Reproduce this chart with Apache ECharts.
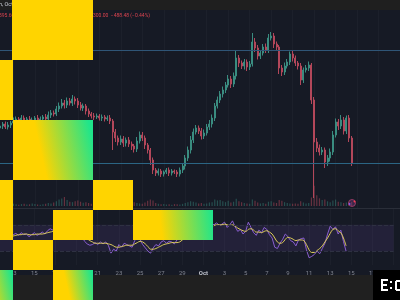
<!DOCTYPE html>
<html><head><meta charset="utf-8">
<script src="https://cdn.jsdelivr.net/npm/echarts@6/dist/echarts.min.js"></script>
<style>html,body{margin:0;padding:0;background:#161a25;}#c{width:400px;height:300px;}</style>
</head><body><div id="c"></div>
<script>
// 6h slots starting Sep 11 18:00 (UTC); the axis runs to Oct 19
const slotStart = Date.UTC(2025, 8, 11, 18);
const slotCount = 150;
const firstOpen = 114500;
const closes = [
114700,114900,114600,114800,115000,115200,115400,115200,115500,115300,
115400,115100,115300,115500,115200,115400,115600,115400,115800,116000,
115900,116400,116700,117000,116800,117200,117000,117400,117200,116800,
116500,116700,116200,115900,115700,115600,115700,115500,115600,115400,
115500,115200,114100,113500,113100,113400,113000,113300,112900,112700,
112400,113200,113800,113500,112800,112300,111300,110300,110000,110200,
109900,110100,110300,110000,110200,110100,109900,110300,110700,111500,
112300,113300,114100,114500,114200,113700,114000,114600,114900,115500,
116700,117300,117900,118300,118800,119400,118900,119700,121500,121000,
120700,121100,120600,120900,123100,122500,121700,122000,122600,122300,
123500,123700,122900,122600,120500,120100,120700,121100,121900,121500,
121000,120700,119300,120300,120500,120800,117300,113100,112500,112100,
112300,111100,111500,112100,113800,115100,114700,115300,114200,115500,
113500,111000];
const highWick = [
300,200,250,300,200,350,250,200,300,250,
200,300,250,200,300,250,200,300,350,300,
250,300,350,400,300,350,300,400,250,300,
300,250,200,250,200,300,250,200,250,200,
250,300,200,300,250,350,300,250,300,250,
200,400,350,300,250,200,200,250,200,250,
200,150,200,250,200,150,200,250,200,300,
350,400,350,300,250,300,350,300,400,350,
300,350,300,350,300,400,300,350,800,300,
250,300,250,300,900,400,300,250,300,350,
400,400,300,250,200,300,350,300,250,300,
250,200,300,250,300,350,200,300,400,350,
300,250,300,350,400,350,300,500,300,250,
300,200];
const lowWick = [
250,300,200,250,300,200,250,300,200,250,
300,250,200,300,250,200,300,250,200,300,
250,200,300,250,350,300,250,300,350,300,
250,300,350,300,250,300,200,250,300,250,
200,300,1800,400,350,300,400,350,300,400,
350,300,250,300,400,350,500,400,300,250,
300,250,200,300,250,200,300,250,300,350,
300,350,300,250,300,350,300,250,300,350,
300,250,300,350,300,250,400,300,350,400,
300,350,400,300,250,400,350,300,250,300,
300,250,400,350,600,400,300,250,300,350,
300,350,500,300,250,300,400,5600,400,350,
300,600,400,350,300,250,400,300,350,300,
400,300];
const volumes = [
10,8,12,9,7,11,8,6,9,10,
7,8,12,9,7,6,8,10,14,12,
16,22,30,35,42,28,20,18,22,26,
20,15,18,14,10,9,8,7,9,8,
10,12,35,28,20,15,18,12,14,16,
18,14,12,10,16,24,30,26,14,10,
8,9,7,8,6,9,8,7,10,14,
18,22,20,16,12,14,10,12,16,18,
30,26,28,22,18,24,16,20,34,22,
18,14,12,10,30,24,16,12,14,10,
20,22,16,14,28,24,18,14,12,10,
12,10,22,16,12,14,40,95,50,36,
28,30,22,18,26,30,20,18,14,16,
18,20];
const rsi = [
50,52,48,51,54,55,57,54,58,55,
56,52,55,58,54,56,59,56,61,64,
62,67,69,71,66,70,66,69,63,56,
50,53,45,41,39,40,43,40,44,41,
44,39,27,33,30,40,36,42,40,38,
36,46,52,48,40,35,30,27,35,40,
38,44,46,42,45,44,41,47,52,58,
63,68,71,72,65,60,62,66,68,71,
72,70,73,69,71,74,66,70,76,67,
60,63,56,60,74,66,58,54,62,58,
66,63,55,50,36,34,42,48,56,52,
46,44,38,47,49,50,32,20,22,25,
30,26,34,42,56,68,63,67,56,62,
45,30];
const rsiMA = [
51,51,51,51,52,53,54,55,55,56,
56,55,55,55,56,56,56,57,58,59,
60,62,64,66,67,68,68,68,67,64,
60,56,52,49,46,44,42,42,42,42,
42,41,40,38,36,36,37,38,39,39,
39,41,43,45,44,41,37,33,33,34,
36,38,40,41,42,43,43,43,44,47,
51,56,61,65,67,67,66,65,66,68,
68,69,70,70,70,71,70,69,70,68,
65,63,61,60,63,64,62,59,59,58,
60,61,59,56,50,44,42,43,48,51,
50,48,46,47,47,46,40,32,28,28,
31,34,38,44,50,57,63,64,61,58,
50,38];
// labelled ticks: every 2 days from Sep 13 00:00 (slot 5), one every 8 slots
const tickLabels = ['13','15','17','19','21','23','25','27','29','Oct','3','5','7','9','11','13','15','17','19'];
const tickFirstSlot = 5, tickEvery = 8;
const priceLines = [122300, 110950];

const categories = Array.from({length: slotCount}, (_, i) =>
  new Date(slotStart + i * 6 * 3600e3).toISOString().slice(0, 13));
const isTick = idx => idx >= tickFirstSlot && (idx - tickFirstSlot) % tickEvery === 0;

const UP = '#3a8c80', DOWN = '#b3475a';
const candles = [], vols = [];
let prev = firstOpen;
closes.forEach((c, i) => {
  const o = prev;
  candles.push([o, c, Math.min(o, c) - lowWick[i], Math.max(o, c) + highWick[i]]);
  vols.push({value: volumes[i], itemStyle: {color: c >= o ? 'rgba(58,140,128,0.45)' : 'rgba(179,71,90,0.5)'}});
  prev = c;
});

const chart = echarts.init(document.getElementById('c'), null, {renderer: 'canvas'});
const xBase = (gi, showLabel) => ({
  type: 'category', gridIndex: gi, data: categories, boundaryGap: false,
  axisLine: {show: false}, axisTick: {show: false},
  splitLine: {show: gi !== 1, interval: (idx) => isTick(idx), lineStyle: {color: '#1c202b', width: 1}},
  axisLabel: showLabel ? {
    show: true, fontSize: 6, color: '#80848f', margin: 5, fontFamily: 'Roboto',
    interval: (idx) => isTick(idx),
    formatter: (v, idx) => { const s = tickLabels[(idx - tickFirstSlot) / tickEvery] || ''; return s === 'Oct' ? '{b|Oct}' : s; },
    rich: {b: {fontSize: 6, color: '#c2c5cd', fontWeight: 'bold', fontFamily: 'Roboto'}}
  } : {show: false}
});
const gradient = () => new echarts.graphic.LinearGradient(0, 0.65, 1, 0.35, [
  {offset: 0, color: '#ffd400'}, {offset: 0.35, color: '#ffd400'}, {offset: 1, color: '#1fe58b'}]);
const Y = '#ffd400';
const blocks = [
  {x: 12, y: 0, w: 81, h: 60, g: false},
  {x: -28, y: 60, w: 41, h: 60, g: false},
  {x: 13, y: 120, w: 80, h: 60, g: true},
  {x: -28, y: 180, w: 41, h: 60, g: false},
  {x: 93, y: 180, w: 40, h: 30, g: false},
  {x: 53, y: 210, w: 40, h: 30, g: false},
  {x: 133, y: 210, w: 80, h: 30, g: true},
  {x: 13, y: 240, w: 40, h: 30, g: false},
  {x: -27, y: 270, w: 40, h: 30, g: true},
  {x: 53, y: 270, w: 40, h: 30, g: true}
];
const graphics = [
  {type: 'rect', shape: {x: 0, y: 0, width: 400, height: 10}, style: {fill: '#1f1f1f'}, z: 50, silent: true},
  {type: 'rect', shape: {x: 0, y: 275, width: 400, height: 25}, style: {fill: '#202020'}, z: 50, silent: true},
  {type: 'line', shape: {x1: 0, y1: 208.5, x2: 400, y2: 208.5}, style: {stroke: '#2a2e39', lineWidth: 1}, z: 40, silent: true},
  {type: 'text', x: -1, y: 5, style: {text: 'n, Oct', fill: '#c9ccd4', fontSize: 5.5, fontFamily: 'Roboto', verticalAlign: 'middle', textVerticalAlign: 'middle'}, z: 55},
  {type: 'text', x: -1, y: 16, style: {text: '395.60', fill: '#d9434f', fontSize: 5, fontFamily: 'Roboto', verticalAlign: 'middle', textVerticalAlign: 'middle'}, z: 55},
  {type: 'text', x: 93, y: 16, style: {text: '300.00  \u2212488.48 (\u22120.44%)', fill: '#d9434f', fontSize: 5, fontFamily: 'Roboto', verticalAlign: 'middle', textVerticalAlign: 'middle'}, z: 55},
  {type: 'circle', shape: {cx: 352, cy: 203, r: 3.5}, style: {fill: 'rgba(120,60,140,0.35)', stroke: '#b0406f', lineWidth: 0.8}, z: 60},
  {type: 'circle', shape: {cx: 349.5, cy: 204, r: 1}, style: {fill: '#8a5cf0'}, z: 61},
  {type: 'circle', shape: {cx: 354.5, cy: 201.5, r: 1}, style: {fill: '#ff3b4e'}, z: 61},
  {type: 'rect', shape: {x: 373, y: 270, width: 27, height: 30}, style: {fill: '#000'}, z: 70},
  {type: 'rect', shape: {x: 381, y: 279, width: 2, height: 12}, style: {fill: '#fff'}, z: 71},
  {type: 'rect', shape: {x: 381, y: 279, width: 7, height: 2}, style: {fill: '#fff'}, z: 71},
  {type: 'rect', shape: {x: 381, y: 289, width: 7, height: 2}, style: {fill: '#fff'}, z: 71},
  {type: 'rect', shape: {x: 383, y: 284, width: 4, height: 2}, style: {fill: '#fff'}, z: 71},
  {type: 'rect', shape: {x: 390, y: 281, width: 2, height: 2}, style: {fill: '#fff'}, z: 71},
  {type: 'rect', shape: {x: 390, y: 287, width: 2, height: 2}, style: {fill: '#fff'}, z: 71},
  {type: 'rect', shape: {x: 396, y: 280, width: 4, height: 2}, style: {fill: '#fff'}, z: 71},
  {type: 'rect', shape: {x: 395, y: 281, width: 2, height: 9}, style: {fill: '#fff'}, z: 71},
  {type: 'rect', shape: {x: 396, y: 289, width: 4, height: 2}, style: {fill: '#fff'}, z: 71}
];
blocks.forEach(b => graphics.push({type: 'rect', shape: {x: b.x, y: b.y, width: b.w, height: b.h},
  style: {fill: b.g ? gradient() : Y}, z: 80, silent: true}));

chart.setOption({
  animation: false,
  backgroundColor: '#161a25',
  grid: [
    {left: 0, right: 0, top: 10, height: 198},
    {left: 0, right: 0, top: 176, height: 30},
    {left: 0, right: 0, top: 209, height: 56}
  ],
  xAxis: [xBase(0, false), xBase(1, false), xBase(2, true)],
  yAxis: [
    {type: 'value', gridIndex: 0, min: 106500, max: 126300, show: false, splitLine: {show: false}},
    {type: 'value', gridIndex: 1, min: 0, max: 140, show: false, splitLine: {show: false}},
    {type: 'value', gridIndex: 2, min: 9, max: 94, show: false, splitLine: {show: false}}
  ],
  series: [
    {type: 'candlestick', xAxisIndex: 0, yAxisIndex: 0, data: candles, barWidth: 1.5,
     itemStyle: {color: UP, color0: DOWN, borderColor: UP, borderColor0: DOWN, borderWidth: 1},
     markLine: {silent: true, symbol: 'none', label: {show: false},
       data: [{yAxis: priceLines[0], lineStyle: {color: '#2f5577', width: 1, type: 'solid'}},
              {yAxis: priceLines[1], lineStyle: {color: '#2b6584', width: 1, type: 'solid'}}]}},
    {type: 'bar', xAxisIndex: 1, yAxisIndex: 1, data: vols, barWidth: 1.2},
    {type: 'line', xAxisIndex: 2, yAxisIndex: 2, data: rsi, symbol: 'none',
     lineStyle: {color: '#8a5fd0', width: 1}, z: 3,
     markArea: {silent: true, itemStyle: {color: 'rgba(126,87,194,0.13)'}, data: [[{yAxis: 70}, {yAxis: 30}]]},
     markLine: {silent: true, symbol: 'none', label: {show: false},
       lineStyle: {color: '#2e3142', width: 1, type: 'dashed'}, data: [{yAxis: 70}, {yAxis: 30}]}},
    {type: 'line', xAxisIndex: 2, yAxisIndex: 2, data: rsiMA, symbol: 'none', smooth: 0.4,
     lineStyle: {color: '#dccb5a', width: 1}, z: 4}
  ],
  graphic: graphics
});
</script></body></html>
